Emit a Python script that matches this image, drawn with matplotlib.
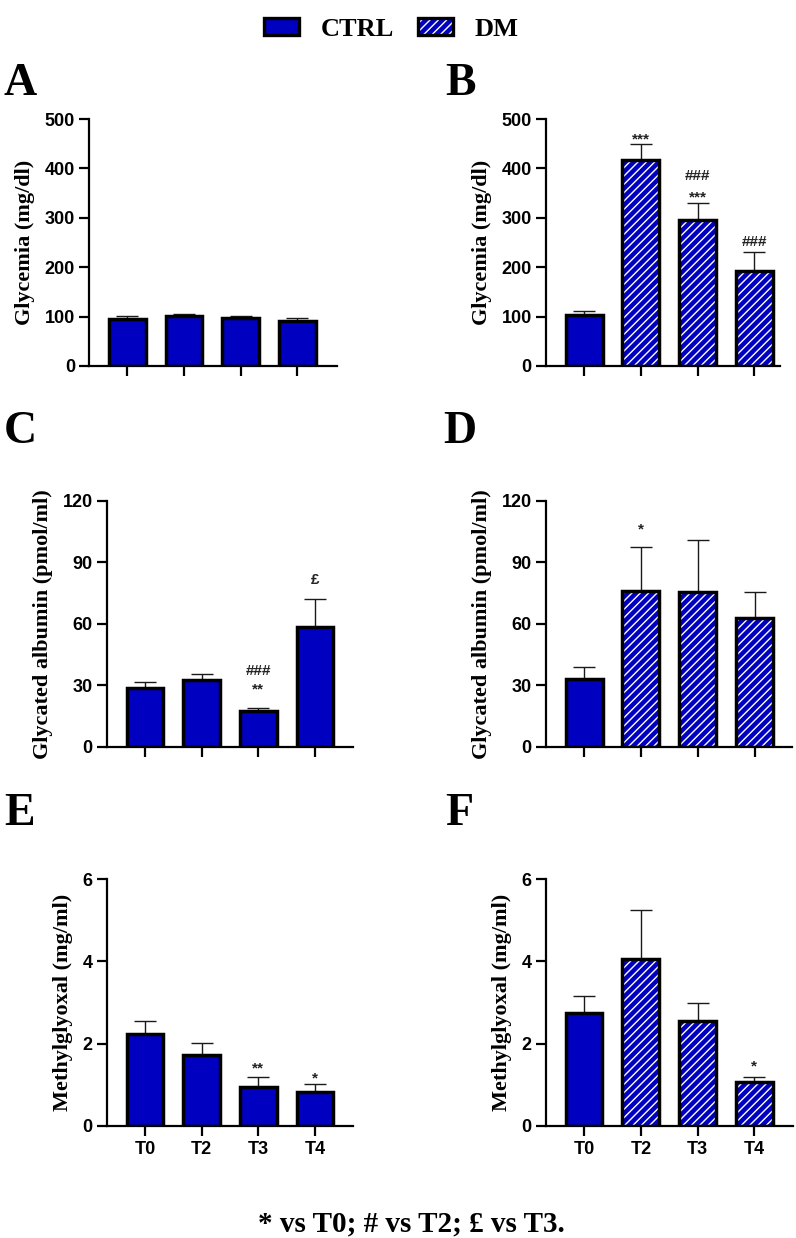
import numpy as np
import matplotlib
matplotlib.use('Agg')
import matplotlib.pyplot as plt
from matplotlib.patches import Patch

plt.rcParams['font.family'] = 'Liberation Sans'
plt.rcParams['font.weight'] = 'bold'
plt.rcParams['hatch.linewidth'] = 1.0

timepoints = ['T0', 'T2', 'T3', 'T4']

# A: glycemia, CTRL
glyc_ctrl = [95, 101, 97, 91]
glyc_ctrl_err = [6, 5, 4, 6]
# B: glycemia, CTRL T0 then DM
glyc_dm = [103, 418, 295, 193]
glyc_dm_err = [9, 32, 34, 38]
# C: glycated albumin, CTRL
galb_ctrl = [28.8, 32.5, 17.4, 58.5]
galb_ctrl_err = [2.9, 2.8, 1.6, 13.5]
# D: glycated albumin, CTRL T0 then DM
galb_dm = [32.8, 75.9, 75.6, 62.6]
galb_dm_err = [5.9, 21.3, 25.1, 12.7]
# E: methylglyoxal, CTRL
mgo_ctrl = [2.23, 1.71, 0.95, 0.82]
mgo_ctrl_err = [0.33, 0.31, 0.24, 0.19]
# F: methylglyoxal, CTRL T0 then DM
mgo_dm = [2.74, 4.05, 2.55, 1.06]
mgo_dm_err = [0.42, 1.21, 0.43, 0.13]

# significance marks: (bar index, text, y)
marks_b = [(1, '***', 468), (2, '###', 387), (2, '***', 351), (3, '###', 254)]
marks_c = [(2, '###', 37.7), (2, '**', 30.1), (3, '£', 82.1)]
marks_d = [(1, '*', 108.3)]
marks_e = [(2, '**', 1.52), (3, '*', 1.27)]
marks_f = [(3, '*', 1.56)]

BLUE = '#0000C0'
W, H = 796, 1238
fig = plt.figure(figsize=(W / 100, H / 100), dpi=100)


def px_axes(left, right, top, bottom):
    return fig.add_axes([left / W, 1 - bottom / H, (right - left) / W, (bottom - top) / H])


def panel(ax, means, errs, hatched, ymax, yticks, ylabel, marks, xright, show_labels):
    x = np.arange(len(means))
    ax.errorbar(x, means, yerr=[np.zeros(len(errs)), errs], fmt='none', ecolor='#1a1a1a',
                elinewidth=1.0, capsize=8, capthick=1.0, zorder=1)
    for i in range(len(means)):
        if hatched[i]:
            ax.bar(x[i], means[i], 0.65, color=BLUE, edgecolor='white', hatch='////',
                   linewidth=0, zorder=2)
        else:
            ax.bar(x[i], means[i], 0.65, color=BLUE, linewidth=0, zorder=2)
    ax.bar(x, means, 0.65, fill=False, edgecolor='black', linewidth=2.5, zorder=3)
    for i, txt, y in marks:
        dy = -3.4 if '*' in txt else -1.0
        ax.annotate(txt, (x[i], y), xytext=(0, dy), textcoords='offset points',
                    ha='center', va='center', fontsize=11, color='#222222')
    ax.set_xlim(-0.675, xright)
    ax.set_ylim(0, ymax)
    ax.set_yticks(yticks)
    ax.set_xticks(x)
    ax.set_xticklabels(timepoints if show_labels else [''] * len(x))
    for s in ['top', 'right']:
        ax.spines[s].set_visible(False)
    for s in ['left', 'bottom']:
        ax.spines[s].set_linewidth(1.6)
    ax.tick_params(direction='out', length=7, width=1.6, labelsize=13)
    ax.tick_params(axis='y', pad=3)
    ax.tick_params(axis='x', pad=4)
    ax.set_ylabel(ylabel, family='Liberation Serif', fontsize=16, fontweight='bold', labelpad=7)


all_ctrl = [False] * 4
dm_set = [False, True, True, True]

axA = px_axes(89, 337, 119, 366)
panel(axA, glyc_ctrl, glyc_ctrl_err, all_ctrl, 500, [0, 100, 200, 300, 400, 500],
      'Glycemia (mg/dl)', [], 3.70, False)
axB = px_axes(545.7, 780, 119, 366)
panel(axB, glyc_dm, glyc_dm_err, dm_set, 500, [0, 100, 200, 300, 400, 500],
      'Glycemia (mg/dl)', marks_b, 3.45, False)
axC = px_axes(106.7, 353, 500.7, 746.7)
panel(axC, galb_ctrl, galb_ctrl_err, all_ctrl, 120, [0, 30, 60, 90, 120],
      'Glycated albumin (pmol/ml)', marks_c, 3.67, False)
axD = px_axes(545.7, 792, 500.7, 746.7)
panel(axD, galb_dm, galb_dm_err, dm_set, 120, [0, 30, 60, 90, 120],
      'Glycated albumin (pmol/ml)', marks_d, 3.66, False)
axE = px_axes(106.7, 353, 879.3, 1125.7)
panel(axE, mgo_ctrl, mgo_ctrl_err, all_ctrl, 6, [0, 2, 4, 6],
      'Methylglyoxal (mg/ml)', marks_e, 3.67, True)
axF = px_axes(545.7, 793, 879.3, 1125.7)
panel(axF, mgo_dm, mgo_dm_err, dm_set, 6, [0, 2, 4, 6],
      'Methylglyoxal (mg/ml)', marks_f, 3.68, True)

# panel letters
for letter, xp, yp in [('A', 4, 95), ('B', 445, 95), ('C', 4, 443), ('D', 443, 443),
                       ('E', 4, 825), ('F', 445, 825)]:
    fig.text(xp / W, 1 - yp / H, letter, family='Liberation Serif', fontsize=33,
             fontweight='bold', ha='left', va='baseline')

# legend
ctrl_h = Patch(facecolor=BLUE, edgecolor='black', linewidth=2.4)
dm_fill = Patch(facecolor=BLUE, edgecolor='white', hatch='////', linewidth=0)
dm_edge = Patch(fill=False, edgecolor='black', linewidth=2.4)
fig.legend([ctrl_h, (dm_fill, dm_edge)], ['CTRL', 'DM'], loc='upper center',
           bbox_to_anchor=(0.492, 1.005), ncol=2, frameon=False,
           prop={'family': 'Liberation Serif', 'size': 19, 'weight': 'bold'},
           handlelength=1.3, handleheight=0.6, handletextpad=0.85, columnspacing=0.9)

fig.text(411 / W, 1 - 1232 / H, '* vs T0; # vs T2; £ vs T3.', family='Liberation Serif',
         fontsize=21, fontweight='bold', ha='center', va='baseline')

fig.savefig('out.png', dpi=100)
